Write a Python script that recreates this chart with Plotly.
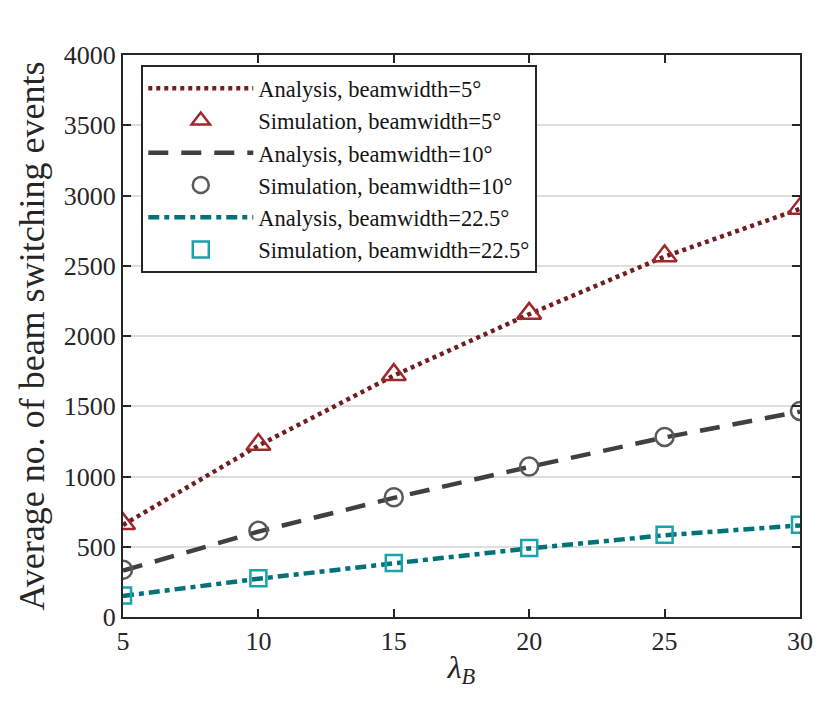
import plotly.graph_objects as go

# lambda_B values on the x axis
lambda_b = [5, 10, 15, 20, 25, 30]

# beamwidth = 5 deg
analysis_5 = [655, 1220, 1718, 2155, 2565, 2905]
sim_5 = [663, 1228, 1725, 2161, 2570, 2908]

# beamwidth = 10 deg
analysis_10 = [330, 608, 848, 1068, 1278, 1462]
sim_10 = [337, 613, 853, 1071, 1282, 1467]

# beamwidth = 22.5 deg
analysis_22 = [150, 272, 382, 488, 582, 652]
sim_22 = [153, 276, 385, 491, 585, 656]

y_ticks = [0, 500, 1000, 1500, 2000, 2500, 3000, 3500, 4000]
x_ticks = [5, 10, 15, 20, 25, 30]

FONT = "Liberation Serif, serif"
INK = "rgb(38,38,38)"

fig = go.Figure()

# analysis lines and simulation markers, in legend order
fig.add_trace(go.Scatter(
    x=lambda_b, y=analysis_5, mode="lines", name="Analysis, beamwidth=5°",
    legendgroup="a5",
    line=dict(color="rgb(112,30,36)", width=4.5, dash="4px,4px")))
fig.add_trace(go.Scatter(
    x=lambda_b, y=sim_5, mode="markers", name="Simulation, beamwidth=5°",
    legendgroup="s5",
    marker=dict(symbol="triangle-up-open", size=21, color="rgb(160,40,44)",
                line=dict(width=2.5, color="rgb(160,40,44)"))))
fig.add_trace(go.Scatter(
    x=lambda_b, y=analysis_10, mode="lines", name="Analysis, beamwidth=10°",
    legendgroup="a10",
    line=dict(color="rgb(64,64,64)", width=4.5, dash="20px,13px")))
fig.add_trace(go.Scatter(
    x=lambda_b, y=sim_10, mode="markers", name="Simulation, beamwidth=10°",
    legendgroup="s10",
    marker=dict(symbol="circle-open", size=18, color="rgb(90,90,90)",
                line=dict(width=2.5, color="rgb(90,90,90)"))))
fig.add_trace(go.Scatter(
    x=lambda_b, y=analysis_22, mode="lines", name="Analysis, beamwidth=22.5°",
    legendgroup="a22",
    line=dict(color="rgb(0,114,120)", width=4.5, dash="11px,5px,5px,5px")))
fig.add_trace(go.Scatter(
    x=lambda_b, y=sim_22, mode="markers", name="Simulation, beamwidth=22.5°",
    legendgroup="s22",
    marker=dict(symbol="square-open", size=16, color="rgb(24,163,173)",
                line=dict(width=2.5, color="rgb(24,163,173)"))))

axis_common = dict(
    showline=True, linecolor=INK, linewidth=2,
    mirror="ticks", ticks="inside", ticklen=8, tickwidth=2,
    tickcolor=INK, zeroline=False,
    tickfont=dict(family=FONT, size=26, color=INK),
)

fig.update_xaxes(
    range=[5, 30], tickvals=x_ticks, showgrid=False,
    title=dict(text="<i>λ</i><sub><i>B</i></sub>",
               font=dict(family=FONT, size=32, color=INK),
               standoff=0),
    **axis_common)
fig.update_yaxes(
    range=[0, 4000], tickvals=y_ticks, showgrid=True,
    gridcolor="rgb(222,222,222)", gridwidth=2,
    title=dict(text="Average no. of beam switching events",
               font=dict(family=FONT, size=36, color=INK),
               standoff=8),
    **axis_common)

fig.update_layout(
    width=830, height=705,
    margin=dict(l=115, r=38, t=47, b=96),
    paper_bgcolor="white", plot_bgcolor="white",
    font=dict(family=FONT, color=INK),
    legend=dict(
        x=0.027, y=0.982, xanchor="left", yanchor="top",
        bgcolor="white", bordercolor=INK, borderwidth=2,
        font=dict(family=FONT, size=22.5, color="rgb(20,20,20)"),
        tracegroupgap=0, itemwidth=105,
    ),
    showlegend=True,
)

fig.write_html("out.html")
